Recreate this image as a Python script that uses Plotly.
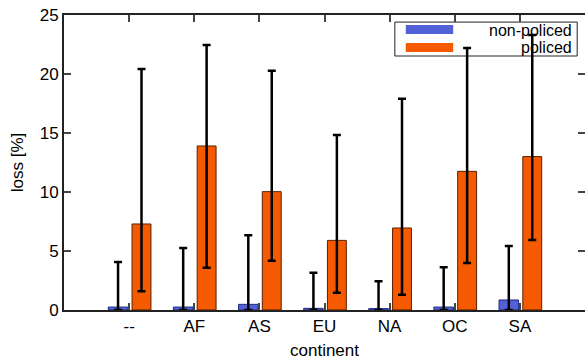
import plotly.graph_objects as go

categories = ["--", "AF", "AS", "EU", "NA", "OC", "SA"]
nonpoliced = [0.25, 0.25, 0.48, 0.14, 0.12, 0.25, 0.85]
nonpoliced_hi = [4.07, 5.25, 6.33, 3.16, 2.43, 3.62, 5.42]
policed = [7.29, 13.9, 10.03, 5.9, 6.95, 11.75, 13.0]
policed_lo = [1.58, 3.58, 4.18, 1.47, 1.3, 3.98, 5.93]
policed_hi = [20.42, 22.46, 20.28, 14.83, 17.9, 22.2, 23.3]
yticks = [0, 5, 10, 15, 20, 25]

BLUE = "#5262D6"
ORANGE = "#F55A00"
FONT = "Liberation Sans, Arial, sans-serif"
FS = 17
LFS = 16

err_style = dict(type="data", symmetric=False, color="black", thickness=2.5, width=4)

fig = go.Figure()
fig.add_trace(go.Bar(
    x=categories, y=nonpoliced, name="non-policed",
    offset=-0.32, width=0.30,
    marker=dict(color=BLUE, line=dict(color="#1f2a80", width=1)),
    error_y=dict(array=[h - v for h, v in zip(nonpoliced_hi, nonpoliced)],
                 arrayminus=nonpoliced, **err_style),
    showlegend=False,
))
fig.add_trace(go.Bar(
    x=categories, y=policed, name="policed",
    offset=0.045, width=0.29,
    marker=dict(color=ORANGE, line=dict(color="#5a2000", width=1)),
    error_y=dict(array=[h - v for h, v in zip(policed_hi, policed)],
                 arrayminus=[v - l for v, l in zip(policed, policed_lo)], **err_style),
    showlegend=False,
))
# invisible trace so the mirrored right-hand tick axis is drawn
fig.add_trace(go.Scatter(x=categories, y=policed, yaxis="y2", mode="markers",
                         marker=dict(opacity=0), showlegend=False, hoverinfo="skip"))

# manual legend (gnuplot-style, right-aligned text)
shapes = [
    dict(type="rect", xref="paper", yref="paper", x0=0.635, x1=0.985, y0=0.861, y1=0.976,
         line=dict(color="#222", width=1), fillcolor="rgba(0,0,0,0)", layer="below"),
    dict(type="rect", xref="paper", yref="paper", x0=0.656, x1=0.747, y0=0.936, y1=0.966,
         line=dict(width=0), fillcolor=BLUE, layer="below"),
    dict(type="rect", xref="paper", yref="paper", x0=0.656, x1=0.747, y0=0.875, y1=0.905,
         line=dict(width=0), fillcolor=ORANGE, layer="below"),
]
annotations = [
    dict(text="non-policed", xref="paper", yref="paper", x=0.979, y=0.949,
         xanchor="right", yanchor="middle", showarrow=False,
         font=dict(family=FONT, size=LFS, color="black")),
    dict(text="policed", xref="paper", yref="paper", x=0.979, y=0.890,
         xanchor="right", yanchor="middle", showarrow=False,
         font=dict(family=FONT, size=LFS, color="black")),
]

fig.update_layout(
    width=585, height=360,
    margin=dict(l=64, r=0, t=15, b=50),
    plot_bgcolor="white", paper_bgcolor="white",
    barmode="overlay",
    font=dict(family=FONT, size=FS, color="black"),
    shapes=shapes, annotations=annotations,
    xaxis=dict(
        type="category", range=[-1, 7],
        showline=True, linecolor="#222", linewidth=2, mirror="ticks",
        ticks="inside", ticklen=7, tickcolor="#444", tickwidth=1.5,
        showgrid=False, zeroline=False,
        title=dict(text="continent", standoff=12, font=dict(size=FS)),
        tickfont=dict(size=FS),
    ),
    yaxis=dict(
        range=[0, 25], tickvals=yticks,
        showline=True, linecolor="#222", linewidth=2,
        ticks="inside", ticklen=7, tickcolor="#444", tickwidth=1.5,
        showgrid=False, zeroline=False,
        title=dict(text="loss [%]", standoff=12, font=dict(size=FS)),
        tickfont=dict(size=FS),
    ),
    yaxis2=dict(
        overlaying="y", side="right", range=[0, 25], tickvals=yticks,
        showticklabels=False, showline=False, showgrid=False, zeroline=False,
        ticks="inside", ticklen=7, tickcolor="#444", tickwidth=1.5,
    ),
)

fig.write_html("out.html")
